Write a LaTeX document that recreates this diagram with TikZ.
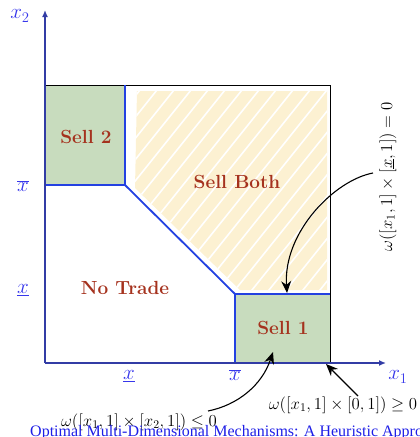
\RequirePackage{fix-cm}
\documentclass[tikz,border=0pt]{standalone}
\usepackage{fontspec}
\newfontfamily\footfont{Liberation Serif}
\usetikzlibrary{arrows.meta}
\definecolor{regred}{RGB}{165,50,30}
\definecolor{axblue}{RGB}{50,60,165}
\definecolor{lblblue}{RGB}{55,55,235}
\definecolor{bndblue}{RGB}{35,65,225}
\definecolor{sellgreen}{RGB}{200,220,190}
\definecolor{pale}{RGB}{252,241,210}
\definecolor{footblue}{RGB}{30,30,230}
\tikzset{
  region/.style={text=regred,font=\fontsize{19}{21}\selectfont\bfseries},
  axlbl/.style={text=lblblue,font=\fontsize{21}{23}\selectfont},
  omlbl/.style={font=\fontsize{16.8}{18}\selectfont},
  bnd/.style={draw=bndblue,line width=1.8pt},
  axis/.style={draw=axblue,line width=1.4pt,-{Latex[length=7pt,width=6pt]}},
  pointer/.style={draw=black,line width=1.1pt,-{Stealth[length=12pt,width=10pt]}}
}
\begin{document}
\begin{tikzpicture}[x=1pt,y=-1pt]
\useasboundingbox (0,0) rectangle (420,437);
% green regions
\fill[sellgreen] (45,85) rectangle (125,185);
\fill[sellgreen] (235,294) rectangle (330,363);
% sell both hatched fill
\begin{scope}
\clip (137,91) -- (327,91) -- (327,290) -- (240,290) -- (135,188) -- cycle;
\fill[pale] (120,85) rectangle (335,300);
\foreach \k in {-16,...,16}{
  \draw[white,line width=1.6pt] (100+17*\k,310) -- (100+17*\k+200,60);
}
\end{scope}
% box outline
\draw[black,line width=0.8pt] (45,85) -- (330,85) -- (330,363);
% boundaries
\draw[bnd] (125,85) -- (125,185) -- (45,185);
\draw[bnd] (125,185) -- (235,294);
\draw[bnd] (330,294) -- (235,294) -- (235,363);
% axes
\coordinate (O) at (45,363);
\coordinate (Ytop) at (45,10);
\coordinate (Xend) at (386,363);
\draw[axis] (O) -- (Ytop);
\draw[axis] (O) -- (Xend);
% axis labels
\node[axlbl] (x2) at (20,16) {$x_2$};
\node[axlbl] (x1) at (398,377) {$x_1$};
\node[axlbl] (yhi) at (23,186) {$\overline{x}$};
\node[axlbl] (ylo) at (23,290) {$\underline{x}$};
\node[axlbl] (xlo) at (129,376) {$\underline{x}$};
\node[axlbl] (xhi) at (235,375) {$\overline{x}$};
% region labels
\node[region] (s2) at (86,137) {Sell 2};
\node[region] (sb) at (237,182) {Sell Both};
\node[region] (nt) at (125,288) {No Trade};
\node[region] (s1) at (283,328) {Sell 1};
% omega labels
\node[omlbl,rotate=90] (om0) at (388,177) {$\omega([x_1,1]\times[\underline{x},1])=0$};
\node[omlbl] (omge) at (343,405) {$\omega([x_1,1]\times[0,1])\geq 0$};
\node[omlbl] (omle) at (139,422) {$\omega([x_1,1]\times[x_2,1])\leq 0$};
% footer
\begin{scope}
\clip (0,0) rectangle (420,437);
\node[anchor=base west,text=footblue,font=\footfont\fontsize{16}{18}\selectfont,inner sep=0pt] (foot) at (30,436) {Optimal Multi-Dimensional Mechanisms: A Heuristic Appro};
\end{scope}
% pointers
\coordinate (a1s) at (373,173);
\coordinate (a1e) at (287,293);
\coordinate (a2s) at (208,411);
\coordinate (a2e) at (273,352);
\coordinate (a3s) at (358,396);
\coordinate (a3e) at (326,364);
\draw[pointer] (a1s) .. controls (335,180) and (283,232) .. (a1e);
\draw[pointer] (a2s) .. controls (238,405) and (262,385) .. (a2e);
\draw[pointer] (a3s) -- (a3e);
\end{tikzpicture}
\end{document}
